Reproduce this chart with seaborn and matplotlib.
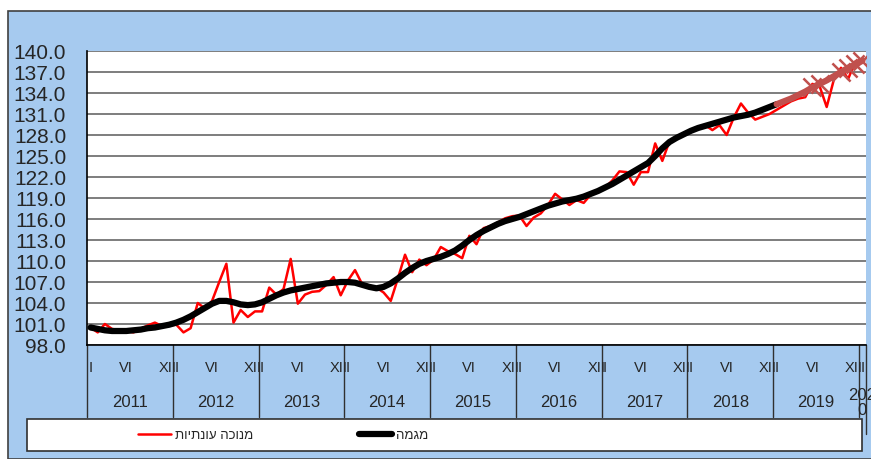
import numpy as np
import pandas as pd
import matplotlib
matplotlib.use("Agg")
import matplotlib.pyplot as plt
from matplotlib.patches import Rectangle
from matplotlib.lines import Line2D
import seaborn as sns

# ------------------------------------------------------------
# Datos (lecturas aproximadas del gráfico de referencia)
# ------------------------------------------------------------
years = ["2011", "2012", "2013", "2014", "2015", "2016", "2017", "2018", "2019", "202\n0"]
month_labels = {0: "I", 5: "VI", 11: "XII"}

# serie desestacionalizada, ene-2011 .. ene-2020
seasonal_adj = [
    100.5, 99.8, 101.0, 100.3, 100.1, 100.0, 99.8, 100.3, 100.8, 101.2, 100.7, 100.8,
    100.9, 99.8, 100.4, 104.0, 103.2, 104.3, 107.0, 109.6, 101.2, 103.0, 102.0, 102.8,
    102.8, 106.2, 105.2, 106.0, 110.3, 103.9, 105.2, 105.6, 105.7, 106.6, 107.7, 105.1,
    107.2, 108.7, 106.7, 106.5, 106.2, 105.5, 104.3, 107.5, 110.9, 108.4, 110.2, 109.4,
    110.2, 112.0, 111.4, 111.0, 110.4, 113.6, 112.4, 114.7, 115.0, 115.5, 116.1, 116.4,
    116.5, 115.0, 116.2, 116.8, 118.0, 119.6, 118.8, 118.0, 118.7, 118.3, 119.5, 120.2,
    120.5, 121.5, 122.8, 122.7, 120.9, 122.7, 122.7, 126.8, 124.3, 127.1, 127.7, 128.0,
    128.5, 129.0, 129.4, 128.7, 129.4, 128.0, 130.5, 132.5, 131.2, 130.2, 130.6, 131.0,
    131.6, 132.2, 132.8, 133.2, 133.4, 135.3, 135.0, 132.0, 135.9, 137.6, 136.0, 138.5,
    138.8,
]

# tendencia, ene-2011 .. ene-2019
trend = [
    100.5, 100.3, 100.1, 100.0, 100.0, 100.0, 100.1, 100.2, 100.4, 100.5, 100.7, 100.9,
    101.2, 101.6, 102.1, 102.7, 103.3, 103.9, 104.3, 104.3, 104.1, 103.8, 103.7, 103.8,
    104.1, 104.6, 105.1, 105.5, 105.8, 106.0, 106.2, 106.4, 106.6, 106.8, 106.9, 107.0,
    107.0, 106.9, 106.6, 106.3, 106.1, 106.3, 106.8, 107.5, 108.3, 109.0, 109.6, 110.0,
    110.3, 110.6, 111.0, 111.5, 112.2, 113.0, 113.7, 114.3, 114.8, 115.3, 115.7, 116.0,
    116.3, 116.7, 117.1, 117.5, 117.9, 118.2, 118.5, 118.7, 118.9, 119.2, 119.6, 120.0,
    120.5, 121.0, 121.6, 122.2, 122.8, 123.4, 124.0, 125.0, 126.1, 127.0, 127.6, 128.1,
    128.6, 129.0, 129.3, 129.6, 129.9, 130.2, 130.5, 130.7, 130.9, 131.2, 131.6, 132.0,
    132.4,
]

# tramo provisional de la tendencia, ene-2019 .. ene-2020
trend_prov = [132.4, 132.8, 133.2, 133.7, 134.2, 134.8, 135.3, 135.8, 136.4, 137.0, 137.6, 138.1, 138.6]
prov_markers = [101, 102, 105, 106, 107, 108]

label_sa = "מנוכה עונתיות"
label_trend = "מגמה"

n = len(seasonal_adj)
df_sa = pd.DataFrame({"t": np.arange(n), "v": seasonal_adj})
df_tr = pd.DataFrame({"t": np.arange(len(trend)), "v": trend})
df_pr = pd.DataFrame({"t": np.arange(n - len(trend_prov), n), "v": trend_prov})
df_mk = df_pr[df_pr["t"].isin(prov_markers)]

# ------------------------------------------------------------
# Figura
# ------------------------------------------------------------
sns.set_style("white")
plt.rcParams["font.family"] = ["Liberation Sans", "DejaVu Sans"]

W, H = 871, 460
fig = plt.figure(figsize=(W / 100, H / 100), dpi=100)
fig.patch.set_facecolor("white")
fig.patches.append(Rectangle((8 / W, 0), 1, (H - 12) / H, transform=fig.transFigure,
                             facecolor="#A6CAEF", edgecolor="#404040", lw=1.2, zorder=-1))

ax_l, ax_r, ax_t, ax_b = 87, 866, 52, 346
ax = fig.add_axes([ax_l / W, (H - ax_b) / H, (ax_r - ax_l) / W, (ax_b - ax_t) / H])
ax.set_facecolor("white")

sns.lineplot(data=df_sa, x="t", y="v", color="#FF0000", lw=1.8, ax=ax, zorder=3)
sns.lineplot(data=df_tr, x="t", y="v", color="black", lw=4.5, ax=ax, zorder=4)
sns.lineplot(data=df_pr, x="t", y="v", color="#C0504D", lw=4.5, ax=ax, zorder=4)
sns.scatterplot(data=df_mk, x="t", y="v", marker="x", s=170, color="#C0504D",
                linewidth=1.8, ax=ax, zorder=5)

ax.set_xlim(-0.5, n - 0.5)
ax.set_ylim(98, 140)
ax.set_yticks(np.arange(98, 141, 3))
ax.set_yticklabels([f"{v:.1f}" for v in np.arange(98, 141, 3)], fontsize=15)
ax.yaxis.grid(True, color="#5A5A5A", lw=1.1)
ax.set_axisbelow(True)
ax.tick_params(axis="y", direction="out", length=6, width=1, color="black", pad=9)
ax.set_xlabel("")
ax.set_ylabel("")

# marcas mensuales
ax.set_xticks(np.arange(-0.5, n, 1))
ax.set_xticklabels([])
ax.tick_params(axis="x", direction="out", length=24, width=1.2, color="black")

for s in ["top", "right"]:
    ax.spines[s].set_visible(False)
for s in ["left", "bottom"]:
    ax.spines[s].set_color("black")
    ax.spines[s].set_linewidth(1.2)

tr = ax.get_xaxis_transform()
ph = ax_b - ax_t
for i in range(n):
    m = i % 12
    if m in month_labels:
        dx = -0.25 if m == 11 else 0
        ax.text(i + dx, -(368 - ax_b) / ph, month_labels[m], transform=tr, ha="center",
                va="center", fontsize=10.5, clip_on=False)

# separadores y etiquetas de año
for k, yr in enumerate(years):
    x0 = k * 12 - 0.5
    ax.plot([x0, x0], [0, -(418 - ax_b) / ph], transform=tr, color="#303030", lw=1,
            clip_on=False)
    xc = k * 12 + 5.5 if k < len(years) - 1 else n - 1
    ax.text(xc, -(403 - ax_b) / ph, yr, transform=tr, ha="center", va="center",
            fontsize=12, clip_on=False, linespacing=1.0)
ax.plot([n - 0.5, n - 0.5], [0, -(435 - ax_b) / ph], transform=tr, color="#303030", lw=1,
        clip_on=False)

# leyenda
fig.patches.append(Rectangle((27 / W, (H - 452) / H), (862 - 27) / W, 32 / H,
                             transform=fig.transFigure, facecolor="white",
                             edgecolor="#303030", lw=1.2, zorder=4))
handles = [Line2D([], [], color="#FF0000", lw=1.8), Line2D([], [], color="black", lw=4.5)]
labels = [label_sa[::-1], label_trend[::-1]]
fig.legend(handles, labels, loc="center", bbox_to_anchor=(283 / W, (H - 436) / H),
           ncol=2, frameon=False, fontsize=9.5, handlelength=2.5, handletextpad=0.3,
           columnspacing=8.0)

fig.savefig("out.png", dpi=100)
